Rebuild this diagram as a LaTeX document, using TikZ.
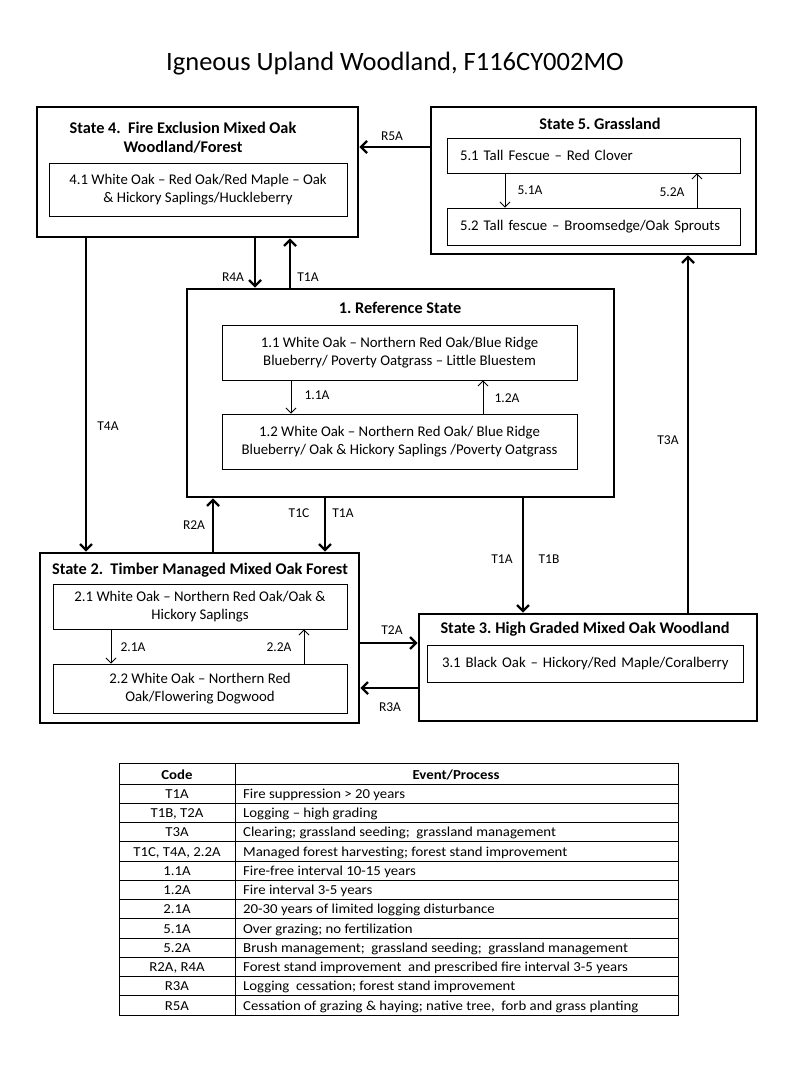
\documentclass[tikz,border=0pt]{standalone}
\usepackage{fontspec}
\setmainfont{Carlito}
\newfontfamily\tablefont[FakeStretch=1.08, Ligatures=TeX]{Carlito}
\usetikzlibrary{positioning}
\usetikzlibrary{arrows.meta}
\frenchspacing

\begin{document}
\begin{tikzpicture}[x=1pt, y=-1pt,
    statebox/.style={draw, line width=2.6pt, inner sep=0pt},
    commbox/.style={draw, line width=0.9pt, inner sep=0pt, align=center, font=\fontsize{14.8}{18}\selectfont},
    commleft/.style={commbox, align=left, inner xsep=13pt},
    statetitle/.style={inner sep=0pt, align=center, font=\fontsize{16.3}{19}\selectfont\bfseries},
    arrlabel/.style={inner sep=0pt, font=\fontsize{13.5}{15}\selectfont},
    trans/.style={->, line width=2.4pt, >={Straight Barb[length=6pt,width=12pt]}},
    pathway/.style={->, line width=0.9pt, >={Straight Barb[length=5pt,width=10pt]}},
    cell/.style={inner sep=0pt, font=\tablefont\fontsize{13.7}{15}\selectfont}
    ]
\useasboundingbox (0,0) rectangle (800,1067);

\node (title) at (395,64) [inner sep=0pt, font=\fontsize{26.5}{30}\selectfont] {Igneous Upland Woodland, F116CY002MO};

% state 4
\node[statebox, minimum width=321pt, minimum height=130pt] (s4) at (197.5,172) {};
\node[statetitle] (s4t) at (183,137.5) {State 4.\ \ Fire Exclusion Mixed Oak\\Woodland/Forest};
\node[commbox, minimum width=298pt, minimum height=53pt] (c41) at (198,189.5) {4.1 White Oak -- Red Oak/Red Maple -- Oak\\\& Hickory Saplings/Huckleberry};

% state 5
\node[statebox, minimum width=325pt, minimum height=147pt] (s5) at (593.5,180.5) {};
\node[statetitle] (s5t) at (600,124) {State 5. Grassland};
\node[commleft, text width=267pt, minimum height=35pt] (c51) at (593.5,155.5) {5.1 Tall Fescue -- Red Clover};
\node[commleft, text width=267pt, minimum height=37pt] (c52) at (593.5,226.5) {5.2 Tall fescue -- Broomsedge/Oak Sprouts};

% reference state
\node[statebox, minimum width=427pt, minimum height=208pt] (ref) at (400.5,393) {};
\node[statetitle] (reft) at (400,308) {1. Reference State};
\node[commbox, minimum width=355pt, minimum height=55pt] (c11) at (399.5,352.5) {1.1 White Oak -- Northern Red Oak/Blue Ridge\\Blueberry/ Poverty Oatgrass -- Little Bluestem};
\node[commbox, minimum width=355pt, minimum height=55pt] (c12) at (399.5,441.5) {1.2 White Oak -- Northern Red Oak/ Blue Ridge\\Blueberry/ Oak \& Hickory Saplings /Poverty Oatgrass};

% state 2
\node[statebox, minimum width=319pt, minimum height=170pt] (s2) at (199.5,638) {};
\node[statetitle] (s2t) at (200,570) {State 2.\ \ Timber Managed Mixed Oak Forest};
\node[commbox, minimum width=294pt, minimum height=45pt] (c21) at (200,606.5) {2.1 White Oak -- Northern Red Oak/Oak \&\\Hickory Saplings};
\node[commbox, minimum width=294pt, minimum height=49pt] (c22) at (200,688.5) {2.2 White Oak -- Northern Red\\Oak/Flowering Dogwood};

% state 3
\node[statebox, minimum width=338pt, minimum height=107pt] (s3) at (588,667.5) {};
\node[statetitle] (s3t) at (585,629) {State 3. High Graded Mixed Oak Woodland};
\node[commleft, inner xsep=5pt, text width=306pt, minimum height=37pt] (c31) at (585,663.5) {\hspace*{10pt}3.1 Black Oak -- Hickory/Red Maple/Coralberry};

% where the arrows run
\coordinate (aR5A) at (0,147);
\coordinate (aR4A) at (255,0);
\coordinate (aT1Atop) at (290,0);
\coordinate (aT4A) at (86,0);
\coordinate (aR2A) at (213,0);
\coordinate (aT1C) at (325,0);
\coordinate (aT1B) at (523,0);
\coordinate (aT3A) at (688,0);
\coordinate (aT2A) at (0,643);
\coordinate (aR3A) at (0,688);
\coordinate (a51) at (505,0);
\coordinate (a52) at (697,0);
\coordinate (a11) at (291,0);
\coordinate (a12) at (483,0);
\coordinate (a21) at (111,0);
\coordinate (a22) at (304,0);

\draw[trans] (s5.west |- aR5A) -- (s4.east |- aR5A);
\draw[trans] (s4.south -| aR4A) -- (ref.north -| aR4A);
\draw[trans] (ref.north -| aT1Atop) -- (s4.south -| aT1Atop);
\draw[trans] (s4.south -| aT4A) -- (s2.north -| aT4A);
\draw[trans] (s2.north -| aR2A) -- (ref.south -| aR2A);
\draw[trans] (ref.south -| aT1C) -- (s2.north -| aT1C);
\draw[trans] (ref.south -| aT1B) -- (s3.north -| aT1B);
\draw[trans] (s3.north -| aT3A) -- (s5.south -| aT3A);
\draw[trans] (s2.east |- aT2A) -- (s3.west |- aT2A);
\draw[trans] (s3.west |- aR3A) -- (s2.east |- aR3A);

\draw[pathway] (c51.south -| a51) -- (c52.north -| a51);
\draw[pathway] (c52.north -| a52) -- (c51.south -| a52);
\draw[pathway] (c11.south -| a11) -- (c12.north -| a11);
\draw[pathway] (c12.north -| a12) -- (c11.south -| a12);
\draw[pathway] (c21.south -| a21) -- (c22.north -| a21);
\draw[pathway] (c22.north -| a22) -- (c21.south -| a22);

\node[arrlabel] (lR5A) at (392,136) {R5A};
\node[arrlabel] (lR4A) at (233,277) {R4A};
\node[arrlabel] (lT1Atop) at (308,277) {T1A};
\node[arrlabel] (lT4A) at (108,426) {T4A};
\node[arrlabel] (lR2A) at (194,525) {R2A};
\node[arrlabel] (lT1C) at (299,513) {T1C};
\node[arrlabel] (lT1A) at (343,513) {T1A};
\node[arrlabel] (lT1Ab) at (502,559) {T1A};
\node[arrlabel] (lT1B) at (549,559) {T1B};
\node[arrlabel] (lT3A) at (668,440) {T3A};
\node[arrlabel] (lT2A) at (392,630) {T2A};
\node[arrlabel] (lR3A) at (390,707) {R3A};
\node[arrlabel] (l51) at (530,190) {5.1A};
\node[arrlabel] (l52) at (672,192) {5.2A};
\node[arrlabel] (l11) at (317,395) {1.1A};
\node[arrlabel] (l12) at (507,398) {1.2A};
\node[arrlabel] (l21) at (133,647) {2.1A};
\node[arrlabel] (l22) at (279,647) {2.2A};

% legend table
\draw[line width=0.8pt] (119,763) rectangle (678,1015);
\draw[line width=0.8pt] (235,763) -- (235,1015);
\draw[line width=0.8pt] (119,784) -- (678,784);
\foreach \i in {1,...,11}
    \draw[line width=0.8pt] (119,784+19.25*\i) -- (678,784+19.25*\i);
\node[cell, anchor=base, font=\tablefont\fontsize{13.7}{15}\selectfont\bfseries] (hcode) at (177,779) {Code};
\node[cell, anchor=base, font=\tablefont\fontsize{13.7}{15}\selectfont\bfseries] (hevent) at (456,779) {Event/Process};
\foreach \code/\event [count=\i] in {
    T1A/Fire suppression > 20 years,
    {T1B, T2A}/Logging -- high grading,
    T3A/{Clearing; grassland seeding;\ \ grassland management},
    {T1C, T4A, 2.2A}/{Managed forest harvesting; forest stand improvement},
    1.1A/Fire-free interval 10-15 years,
    1.2A/Fire interval 3-5 years,
    2.1A/20-30 years of limited logging disturbance,
    5.1A/{Over grazing; no fertilization},
    5.2A/{Brush management;\ \ grassland seeding;\ \ grassland management},
    {R2A, R4A}/Forest stand improvement\ \ and prescribed fire interval 3-5 years,
    R3A/{Logging\ \ cessation; forest stand improvement},
    R5A/{Cessation of grazing \& haying; native tree,\ \ forb and grass planting}}{
    \node[cell, anchor=base] (code\i) at (177,779+19.25*\i) {\code};
    \node[cell, anchor=base west] (event\i) at (243,779+19.25*\i) {\event};
}

\end{tikzpicture}
\end{document}
